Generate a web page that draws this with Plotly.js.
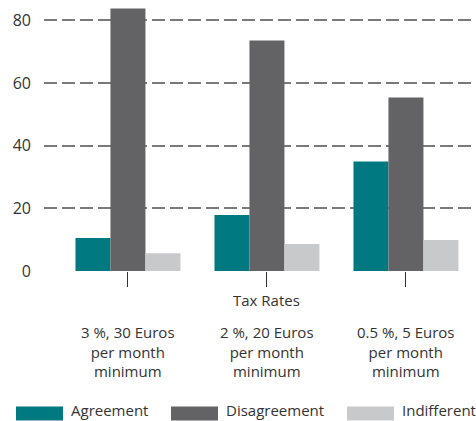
<!DOCTYPE html>
<html>
<head>
<meta charset="utf-8">
<script src="https://cdn.plot.ly/plotly-3.0.1.min.js"></script>
<style>html,body{margin:0;padding:0;background:#fff;}#chart{width:476px;height:421px;}</style>
</head>
<body>
<div id="chart"></div>
<script>
var categories = ["3 %, 30 Euros<br>per month<br>minimum", "2 %, 20 Euros<br>per month<br>minimum", "0.5 %, 5 Euros<br>per month<br>minimum"];
var seriesNames = ["Agreement", "Disagreement", "Indifferent"];
var agreement = [10.5, 17.9, 35.0];
var disagreement = [83.8, 73.6, 55.4];
var indifferent = [5.7, 8.6, 9.9];
var yTicks = [0, 20, 40, 60, 80];
var axisTitle = "Tax Rates";

var colors = ["#007a80", "#636366", "#c8c9cb"];
var FONT = "Open Sans, sans-serif";
var TXT = "#333333";
var seriesValues = [agreement, disagreement, indifferent];
var xIdx = categories.map(function(_, i){ return i; });

var traces = seriesNames.map(function(n, k){
  return {type: "bar", name: n, x: xIdx, y: seriesValues[k], marker: {color: colors[k]}, showlegend: false, hoverinfo: "y"};
});

var annotations = categories.map(function(c, i){
  return {x: i, y: 0, xref: "x", yref: "paper", yshift: -80, text: c, showarrow: false, yanchor: "middle",
          font: {family: FONT, size: 15, color: TXT}, align: "center"};
});
annotations.push({x: 1, y: 0, xref: "x", yref: "paper", yshift: -29, text: axisTitle, showarrow: false, yanchor: "middle",
  font: {family: FONT, size: 15, color: TXT}});

var shapes = [];
var legX = [16, 171, 347];
seriesNames.forEach(function(n, k){
  shapes.push({type: "rect", xref: "paper", yref: "paper", xsizemode: "pixel", ysizemode: "pixel",
    xanchor: 0, yanchor: 0, x0: legX[k] - 44, x1: legX[k] - 44 + 47, y0: -(407 - 271.5), y1: -(421 - 271.5),
    fillcolor: colors[k], line: {width: 0}});
  annotations.push({xref: "paper", yref: "paper", x: 0, y: 0, xshift: legX[k] - 44 + 53, yshift: -(410.5 - 271.5),
    xanchor: "left", yanchor: "middle", text: n, showarrow: false, font: {family: FONT, size: 15, color: TXT}});
});

var layout = {
  width: 476, height: 421,
  margin: {l: 44, r: 0, t: 5, b: 149.5},
  paper_bgcolor: "#fff", plot_bgcolor: "#fff",
  barmode: "group", bargap: 0.245, bargroupgap: 0,
  xaxis: {range: [-0.604, 2.504], tickvals: xIdx, showticklabels: false, ticks: "outside", ticklen: 15, tickcolor: "#333", tickwidth: 1,
          showgrid: false, zeroline: false, showline: false, fixedrange: true},
  yaxis: {range: [0, 84.94], tickvals: yTicks, showgrid: true, gridcolor: "#7a7a7a", gridwidth: 2, griddash: "13px,5px",
          zeroline: false, showline: false, ticks: "", ticklabelstandoff: 12,
          tickfont: {family: FONT, size: 16, color: TXT}},
  shapes: shapes,
  annotations: annotations
};
Plotly.newPlot("chart", traces, layout, {displayModeBar: false, staticPlot: true});
</script>
</body>
</html>
